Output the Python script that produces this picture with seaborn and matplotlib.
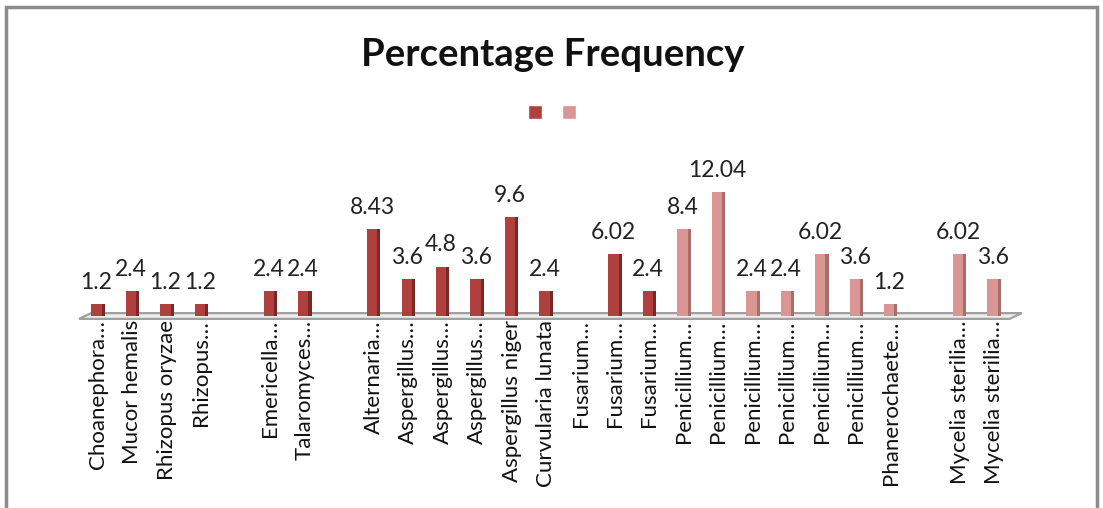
import matplotlib
matplotlib.use("Agg")
import matplotlib.pyplot as plt
from matplotlib.patches import Patch, Rectangle, Polygon
import matplotlib.transforms as mtransforms
import numpy as np
import pandas as pd
import seaborn as sns

# Category slots along the axis (blank strings are empty spacer slots)
categories = [
    "Choanephora…", "Mucor hemalis", "Rhizopus oryzae", "Rhizopus…", "",
    "Emericella…", "Talaromyces…", "",
    "Alternaria…", "Aspergillus…", "Aspergillus…", "Aspergillus…",
    "Aspergillus niger", "Curvularia lunata", "Fusarium…", "Fusarium…",
    "Fusarium…", "Penicillium…", "Penicillium…", "Penicillium…",
    "Penicillium…", "Penicillium…", "Penicillium…", "Phanerochaete…", "",
    "Mycelia sterilia…", "Mycelia sterilia…",
]

# First series (dark red): slot index and percentage frequency
series1_pos = [0, 1, 2, 3, 5, 6, 8, 9, 10, 11, 12, 13, 15, 16]
series1_val = [1.2, 2.4, 1.2, 1.2, 2.4, 2.4, 8.43, 3.6, 4.8, 3.6, 9.6, 2.4, 6.02, 2.4]

# Second series (light red)
series2_pos = [17, 18, 19, 20, 21, 22, 23, 25, 26]
series2_val = [8.4, 12.04, 2.4, 2.4, 6.02, 3.6, 1.2, 6.02, 3.6]

face_colors = ["#B0403E", "#D99694"]
side_colors = ["#7A2826", "#A86E6C"]

df = pd.DataFrame({
    "pos": series1_pos + series2_pos,
    "value": series1_val + series2_val,
    "series": ["s1"] * len(series1_pos) + ["s2"] * len(series2_pos),
})

sns.set_theme(style="white")
plt.rcParams["font.family"] = ["Lato", "DejaVu Sans"]

W, H = 1103, 508
fig = plt.figure(figsize=(W / 100, H / 100), dpi=100)
ax = fig.add_axes([80.8 / W, (H - 316) / H, 939.2 / W, 144.2 / H])

face_w = 0.30
side_w = 0.09
shift = -0.045

# Bar fronts
sns.barplot(data=df, x="pos", y="value", hue="series", native_scale=True,
            dodge=False, width=face_w, palette=face_colors, legend=False,
            saturation=1, linewidth=0, ax=ax)
for cont in ax.containers:
    for p in cont:
        p.set_x(p.get_x() + shift)

# Shaded right-hand sides of the columns
for pos, val, col in ((series1_pos, series1_val, side_colors[0]),
                      (series2_pos, series2_val, side_colors[1])):
    ax.bar(np.array(pos) + shift + face_w / 2 + side_w / 2, val,
           width=side_w, color=col, linewidth=0)

# Value labels above the columns
for cont, vals in zip(ax.containers[:2], (series1_val, series2_val)):
    ax.bar_label(cont, labels=[f"{v:g}" for v in vals], padding=8,
                 fontsize=16.5, color="#222222")

ax.set_xlim(-0.5, 26.75)
ax.set_ylim(0, 14)
ax.set_yticks([])
ax.set_xticks(range(len(categories)))
ax.set_xticklabels(categories, rotation=90, fontsize=16, color="#111111",
                   va="top", ha="center")
ax.tick_params(axis="x", length=0, pad=3)
ax.set_xlabel("")
ax.set_ylabel("")
for s in ax.spines.values():
    s.set_visible(False)
ax.patch.set_alpha(0)

# Floor strip under the columns
trans = mtransforms.blended_transform_factory(ax.transData, ax.transAxes)
floor = Polygon([(-0.55, -0.02), (26.45, -0.02), (26.8, 0.02), (-0.2, 0.02)],
                closed=True, transform=trans, facecolor="#EDEDED",
                edgecolor="#A0A0A0", linewidth=1.6, clip_on=False, zorder=0.5)
ax.add_patch(floor)

fig.text(553 / W, 1 - 55 / H, "Percentage Frequency", ha="center",
         va="center", fontsize=27.5, fontweight="bold", color="#111111")

handles = [Patch(facecolor=face_colors[0]), Patch(facecolor=face_colors[1])]
fig.legend(handles, ["", ""], ncol=2, loc="center",
           bbox_to_anchor=(556 / W, 1 - 113 / H), frameon=False,
           handlelength=0.75, handleheight=0.75, handletextpad=0.4,
           columnspacing=0.6, fontsize=14)

# Chart area border
fig.patches.append(Rectangle((6 / W, -0.05), (1097 - 6) / W, (H - 7) / H + 0.05,
                             transform=fig.transFigure, fill=False,
                             edgecolor="#8C8C8C", linewidth=2.5))

fig.savefig("out.png", dpi=100)
